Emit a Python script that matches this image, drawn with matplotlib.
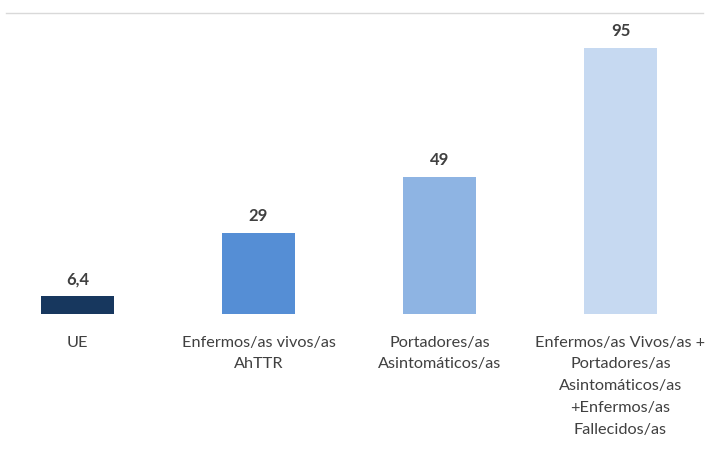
import matplotlib.pyplot as plt
from matplotlib.lines import Line2D

categorias = ["UE",
              "Enfermos/as vivos/as\nAhTTR",
              "Portadores/as\nAsintomáticos/as",
              "Enfermos/as Vivos/as +\nPortadores/as\nAsintomáticos/as\n+Enfermos/as\nFallecidos/as"]
valores = [6.4, 29, 49, 95]
etiquetas = ["6,4", "29", "49", "95"]
colores = ["#17375E", "#558ED5", "#8EB4E3", "#C6D9F1"]

plt.rcParams['font.family'] = ['Lato', 'DejaVu Sans']

fig = plt.figure(figsize=(7.06, 4.63), dpi=100)
ax = fig.add_axes([0, 149 / 463, 1, 301 / 463])

x = list(range(len(valores)))
ax.bar(x, valores, width=0.4, color=colores)
ax.set_xlim(-77.5 / 181, (706 - 77.5) / 181)
ax.set_ylim(0, 301 / 2.8)

for xi, v, t in zip(x, valores, etiquetas):
    ax.annotate(t, (xi, v), xytext=(0, 6.5), textcoords="offset points",
                ha="center", va="bottom", fontsize=12, fontweight="bold",
                color="#404040")

ax.set_xticks(x)
ax.set_xticklabels(categorias, fontsize=11.7, color="#404040")
for lab in ax.get_xticklabels():
    lab.set_linespacing(1.72)
ax.tick_params(axis="x", length=0, pad=15.5)
ax.set_yticks([])
for s in ax.spines.values():
    s.set_visible(False)

# linea gris superior
fig.add_artist(Line2D([6 / 706, 703 / 706], [450 / 463, 450 / 463],
                      color="#D9D9D9", lw=1))

fig.savefig("out.png", dpi=100)
